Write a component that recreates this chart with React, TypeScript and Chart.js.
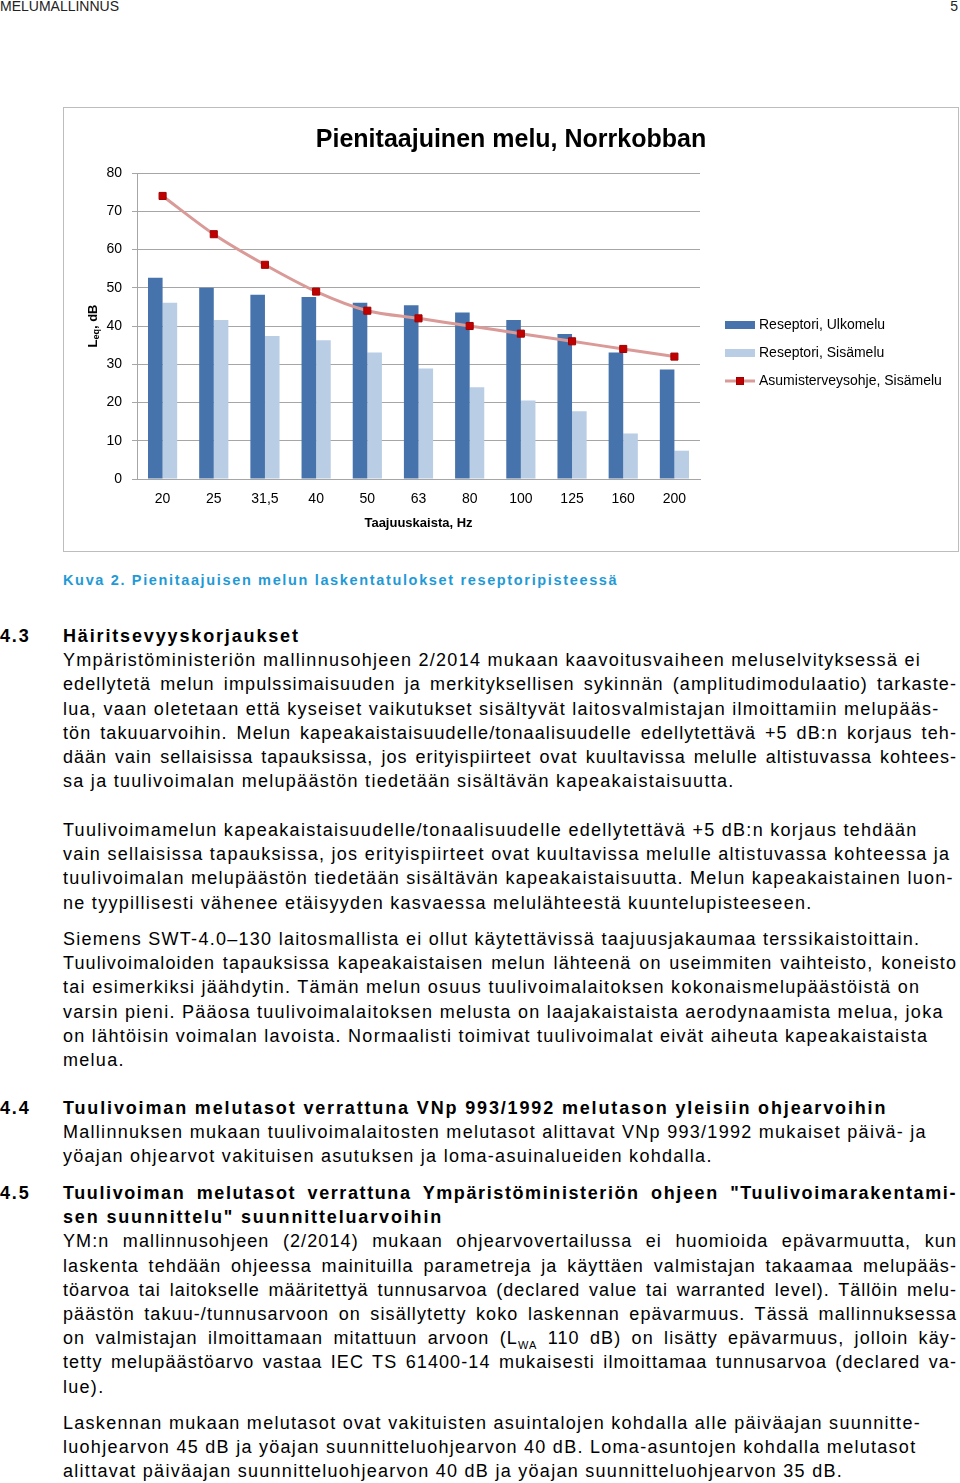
import React, { useEffect, useRef } from 'react';
import { Chart, registerables } from 'chart.js';

Chart.register(...registerables);

// ---- Chart data ----
const categories = ['20', '25', '31,5', '40', '50', '63', '80', '100', '125', '160', '200'];
const ulkomelu = [52.6, 50.0, 48.2, 47.6, 46.1, 45.4, 43.5, 41.6, 37.9, 33.1, 28.6];
const sisamelu = [46.1, 41.6, 37.4, 36.3, 33.1, 28.9, 24.0, 20.5, 17.7, 11.9, 7.4];
const ohjearvo = [74, 64, 56, 49, 44, 42, 40, 38, 36, 34, 32];
const seriesLabels = ['Reseptori, Ulkomelu', 'Reseptori, Sisämelu', 'Asumisterveysohje, Sisämelu'];
const yMin = 0;
const yMax = 80;
const yStep = 10;
const chartTitle = 'Pienitaajuinen melu, Norrkobban';
const xAxisTitle = 'Taajuuskaista, Hz';
const yTitleMain = 'L';
const yTitleSub = 'eq';
const yTitleRest = ', dB';

const FONT = '"Liberation Sans", Arial, Helvetica, sans-serif';
const DARK_BLUE = '#4673ab';
const LIGHT_BLUE = '#b9cde5';
const LINE_PINK = '#d99a98';
const MARKER_RED = '#c00000';
const GRID = '#a6a6a6';

const yTitlePlugin = {
  id: 'yTitleSub',
  afterDraw(chart: any) {
    const { ctx, chartArea } = chart;
    ctx.save();
    const cx = chartArea.left - 44;
    const cy = (chartArea.top + chartArea.bottom) / 2;
    ctx.translate(cx, cy);
    ctx.rotate(-Math.PI / 2);
    const big = `bold 13px ${FONT}`;
    const small = `bold 9px ${FONT}`;
    ctx.font = big;
    const wL = ctx.measureText(yTitleMain).width;
    const wR = ctx.measureText(yTitleRest).width;
    ctx.font = small;
    const wS = ctx.measureText(yTitleSub).width;
    let x = -(wL + wS + wR) / 2;
    ctx.fillStyle = '#000';
    ctx.textAlign = 'left';
    ctx.textBaseline = 'middle';
    ctx.font = big;
    ctx.fillText(yTitleMain, x, 0);
    x += wL;
    ctx.font = small;
    ctx.fillText(yTitleSub, x, 4);
    x += wS;
    ctx.font = big;
    ctx.fillText(yTitleRest, x, 0);
    ctx.restore();
  },
};

const sideLegendPlugin = {
  id: 'sideLegend',
  afterDraw(chart: any) {
    const { ctx, chartArea } = chart;
    const x0 = chartArea.right + 25;
    const yc = (chartArea.top + chartArea.bottom) / 2;
    ctx.save();
    chart.data.datasets.forEach((ds: any, i: number) => {
      const y = yc - 1 + i * 28;
      if (ds.type === 'line') {
        ctx.strokeStyle = ds.borderColor;
        ctx.lineWidth = 3;
        ctx.beginPath();
        ctx.moveTo(x0, y);
        ctx.lineTo(x0 + 30, y);
        ctx.stroke();
        ctx.fillStyle = ds.pointBackgroundColor;
        ctx.fillRect(x0 + 11.5, y - 3.5, 7, 7);
        ctx.strokeStyle = ds.pointBorderColor;
        ctx.lineWidth = 1;
        ctx.strokeRect(x0 + 11.5, y - 3.5, 7, 7);
      } else {
        ctx.fillStyle = ds.backgroundColor;
        ctx.fillRect(x0, y - 4, 30, 8);
      }
      ctx.fillStyle = '#000';
      ctx.font = `14px ${FONT}`;
      ctx.textAlign = 'left';
      ctx.textBaseline = 'middle';
      ctx.fillText(ds.label, x0 + 34, y);
    });
    ctx.restore();
  },
};

function NoiseChart() {
  const ref = useRef<HTMLCanvasElement | null>(null);
  useEffect(() => {
    if (!ref.current) return;
    const chart = new Chart(ref.current, {
      type: 'bar',
      data: {
        labels: categories,
        datasets: [
          {
            type: 'bar',
            label: seriesLabels[0],
            data: ulkomelu,
            backgroundColor: DARK_BLUE,
            categoryPercentage: 0.57,
            barPercentage: 1,
            order: 2,
          },
          {
            type: 'bar',
            label: seriesLabels[1],
            data: sisamelu,
            backgroundColor: LIGHT_BLUE,
            categoryPercentage: 0.57,
            barPercentage: 1,
            order: 2,
          },
          {
            type: 'line',
            label: seriesLabels[2],
            data: ohjearvo,
            borderColor: LINE_PINK,
            borderWidth: 3,
            tension: 0.3,
            pointStyle: 'rect',
            pointRadius: 5,
            pointBackgroundColor: MARKER_RED,
            pointBorderColor: '#a00000',
            pointBorderWidth: 1,
            order: 1,
          },
        ] as any,
      },
      options: {
        animation: false,
        responsive: false,
        maintainAspectRatio: false,
        layout: { padding: 0 },
        plugins: {
          legend: { display: false },
          tooltip: { enabled: false },
          title: {
            display: true,
            text: chartTitle,
            color: '#000',
            font: { family: FONT, size: 25, weight: 'bold' },
            padding: { top: 17, bottom: 18 },
          },
        },
        scales: {
          x: {
            offset: true,
            grid: { display: false, drawTicks: false },
            border: { display: true, color: GRID, width: 1 },
            ticks: { color: '#000', font: { family: FONT, size: 14 }, padding: 12, maxRotation: 0 },
            title: {
              display: true,
              text: xAxisTitle,
              color: '#000',
              font: { family: FONT, size: 13, weight: 'bold' },
              padding: { top: 0, bottom: 20 },
            },
            afterFit(scale: any) {
              scale.height = 72;
            },
          },
          y: {
            min: yMin,
            max: yMax,
            ticks: { stepSize: yStep, color: '#000', font: { family: FONT, size: 14 }, padding: 10 },
            grid: { color: GRID, lineWidth: 1, drawTicks: true, tickLength: 5, tickColor: GRID },
            border: { display: true, color: GRID, width: 1 },
            afterFit(scale: any) {
              scale.width = 73;
            },
          },
          legendSpace: {
            type: 'linear',
            position: 'right',
            display: true,
            ticks: { display: false },
            grid: { display: false, drawTicks: false },
            border: { display: false },
            afterFit(scale: any) {
              scale.width = 258;
            },
          },
        },
      } as any,
      plugins: [yTitlePlugin, sideLegendPlugin],
    });
    return () => chart.destroy();
  }, []);
  return (
    <canvas
      ref={ref}
      width={894}
      height={443}
      style={{ position: 'absolute', left: 64, top: 108, width: 894, height: 443 }}
    />
  );
}

// ---- Page text ----
const bodyFont: React.CSSProperties = {
  fontFamily: FONT,
  fontSize: 18,
  letterSpacing: 1.28,
  color: '#000',
  lineHeight: '24.2px',
  whiteSpace: 'nowrap',
};
const headFont: React.CSSProperties = {
  ...bodyFont,
  fontWeight: 'bold',
  letterSpacing: 1.85,
};

type LineSpec = { text: React.ReactNode; justify?: boolean; head?: boolean; num?: string; ls?: number };

function Block({ top, lines }: { top: number; lines: LineSpec[] }) {
  return (
    <div style={{ position: 'absolute', left: 63, top, width: 894 }}>
      {lines.map((l, i) => {
        const base = l.head ? headFont : bodyFont;
        return (
          <div
            key={i}
            style={{
              ...base,
              letterSpacing: l.ls ?? base.letterSpacing,
              position: 'relative',
              height: 24.2,
              textAlign: l.justify ? 'justify' : 'left',
              textAlignLast: l.justify ? 'justify' : 'auto',
              whiteSpace: l.justify ? 'normal' : 'nowrap',
            } as React.CSSProperties}
          >
            {l.num ? (
              <span style={{ position: 'absolute', left: -63, top: 0, letterSpacing: headFont.letterSpacing }}>{l.num}</span>
            ) : null}
            {l.text}
          </div>
        );
      })}
    </div>
  );
}

const block43: LineSpec[] = [
  { text: 'Häiritsevyyskorjaukset', head: true, num: '4.3' },
  { text: 'Ympäristöministeriön mallinnusohjeen 2/2014 mukaan kaavoitusvaiheen meluselvityksessä ei' },
  { text: 'edellytetä melun impulssimaisuuden ja merkityksellisen sykinnän (amplitudimodulaatio) tarkaste-', justify: true, ls: 1.1 },
  { text: 'lua, vaan oletetaan että kyseiset vaikutukset sisältyvät laitosvalmistajan ilmoittamiin melupääs-' },
  { text: 'tön takuuarvoihin. Melun kapeakaistaisuudelle/tonaalisuudelle edellytettävä +5 dB:n korjaus teh-', justify: true, ls: 1.1 },
  { text: 'dään vain sellaisissa tapauksissa, jos erityispiirteet ovat kuultavissa melulle altistuvassa kohtees-', justify: true, ls: 1.0 },
  { text: 'sa ja tuulivoimalan melupäästön tiedetään sisältävän kapeakaistaisuutta.' },
];
const blockP2: LineSpec[] = [
  { text: 'Tuulivoimamelun kapeakaistaisuudelle/tonaalisuudelle edellytettävä +5 dB:n korjaus tehdään' },
  { text: 'vain sellaisissa tapauksissa, jos erityispiirteet ovat kuultavissa melulle altistuvassa kohteessa ja' },
  { text: 'tuulivoimalan melupäästön tiedetään sisältävän kapeakaistaisuutta. Melun kapeakaistainen luon-' },
  { text: 'ne tyypillisesti vähenee etäisyyden kasvaessa melulähteestä kuuntelupisteeseen.' },
];
const blockP3: LineSpec[] = [
  { text: 'Siemens SWT-4.0–130 laitosmallista ei ollut käytettävissä taajuusjakaumaa terssikaistoittain.' },
  { text: 'Tuulivoimaloiden tapauksissa kapeakaistaisen melun lähteenä on useimmiten vaihteisto, koneisto', justify: true, ls: 1.1 },
  { text: 'tai esimerkiksi jäähdytin. Tämän melun osuus tuulivoimalaitoksen kokonaismelupäästöistä on' },
  { text: 'varsin pieni. Pääosa tuulivoimalaitoksen melusta on laajakaistaista aerodynaamista melua, joka' },
  { text: 'on lähtöisin voimalan lavoista. Normaalisti toimivat tuulivoimalat eivät aiheuta kapeakaistaista' },
  { text: 'melua.' },
];
const block44: LineSpec[] = [
  { text: 'Tuulivoiman melutasot verrattuna VNp 993/1992 melutason yleisiin ohjearvoihin', head: true, num: '4.4' },
  { text: 'Mallinnuksen mukaan tuulivoimalaitosten melutasot alittavat VNp 993/1992 mukaiset päivä- ja' },
  { text: 'yöajan ohjearvot vakituisen asutuksen ja loma-asuinalueiden kohdalla.' },
];
const block45: LineSpec[] = [
  { text: 'Tuulivoiman melutasot verrattuna Ympäristöministeriön ohjeen "Tuulivoimarakentami-', head: true, num: '4.5', justify: true, ls: 1.6 },
  { text: 'sen suunnittelu" suunnitteluarvoihin', head: true },
  { text: 'YM:n mallinnusohjeen (2/2014) mukaan ohjearvovertailussa ei huomioida epävarmuutta, kun', justify: true, ls: 1.1 },
  { text: 'laskenta tehdään ohjeessa mainituilla parametreja ja käyttäen valmistajan takaamaa melupääs-', justify: true, ls: 1.1 },
  { text: 'töarvoa tai laitokselle määritettyä tunnusarvoa (declared value tai warranted level). Tällöin melu-', justify: true, ls: 1.0 },
  { text: 'päästön takuu-/tunnusarvoon on sisällytetty koko laskennan epävarmuus. Tässä mallinnuksessa', justify: true, ls: 1.1 },
  {
    text: (
      <>
        on valmistajan ilmoittamaan mitattuun arvoon (L<sub style={{ fontSize: 11, lineHeight: 0 }}>WA</sub> 110 dB) on lisätty epävarmuus, jolloin käy-
      </>
    ),
    justify: true,
    ls: 1.1,
  },
  { text: 'tetty melupäästöarvo vastaa IEC TS 61400-14 mukaisesti ilmoittamaa tunnusarvoa (declared va-', justify: true, ls: 1.1 },
  { text: 'lue).' },
];
const blockP6: LineSpec[] = [
  { text: 'Laskennan mukaan melutasot ovat vakituisten asuintalojen kohdalla alle päiväajan suunnitte-' },
  { text: 'luohjearvon 45 dB ja yöajan suunnitteluohjearvon 40 dB. Loma-asuntojen kohdalla melutasot' },
  { text: 'alittavat päiväajan suunnitteluohjearvon 40 dB ja yöajan suunnitteluohjearvon 35 dB.' },
];

export default function App() {
  return (
    <div
      style={{
        position: 'absolute',
        left: 0,
        top: 0,
        width: 960,
        height: 1483,
        overflow: 'hidden',
        background: '#fff',
      }}
    >
      <div
        style={{
          position: 'absolute',
          left: 0,
          top: -1,
          fontFamily: FONT,
          fontSize: 14,
          lineHeight: '14px',
          color: '#222',
        }}
      >
        MELUMALLINNUS
      </div>
      <div
        style={{
          position: 'absolute',
          right: 2,
          top: -1,
          fontFamily: FONT,
          fontSize: 14,
          lineHeight: '14px',
          color: '#222',
        }}
      >
        5
      </div>
      <div
        style={{
          position: 'absolute',
          left: 63,
          top: 107,
          width: 894,
          height: 443,
          border: '1px solid #bdbdbd',
        }}
      />
      <NoiseChart />
      <div
        style={{
          position: 'absolute',
          left: 63,
          top: 571,
          fontFamily: FONT,
          fontSize: 14.5,
          fontWeight: 'bold',
          letterSpacing: 1.65,
          lineHeight: '18px',
          color: '#1f9ad6',
          whiteSpace: 'nowrap',
        }}
      >
        Kuva 2. Pienitaajuisen melun laskentatulokset reseptoripisteessä
      </div>
      <Block top={624} lines={block43} />
      <Block top={818} lines={blockP2} />
      <Block top={927} lines={blockP3} />
      <Block top={1096} lines={block44} />
      <Block top={1181} lines={block45} />
      <Block top={1411} lines={blockP6} />
    </div>
  );
}
